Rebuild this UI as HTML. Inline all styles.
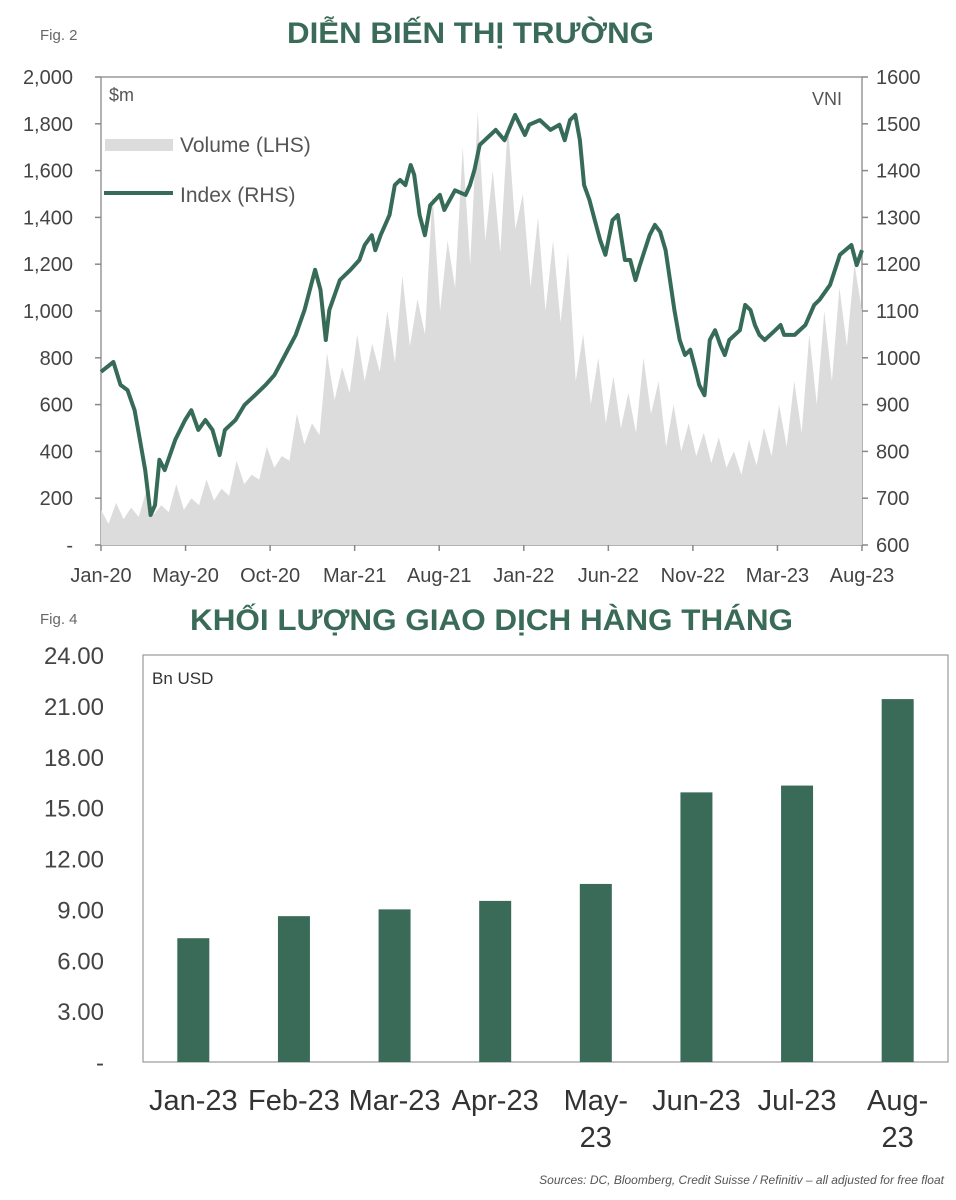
<!DOCTYPE html>
<html><head><meta charset="utf-8"><style>
html,body{margin:0;padding:0;background:#fff;}
svg{display:block;font-family:"Liberation Sans",sans-serif;}
</style></head><body>
<svg id="root" width="956" height="1200" viewBox="0 0 956 1200">
<text x="40" y="40" font-size="15" fill="#666">Fig. 2</text>
<text x="287" y="43" font-size="30" font-weight="bold" fill="#3a6b58" textLength="367" lengthAdjust="spacingAndGlyphs">DIỄN BIẾN THỊ TRƯỜNG</text>
<g id="c1"></g>
<text x="40" y="624" font-size="15" fill="#666">Fig. 4</text>
<text x="190" y="630" font-size="30" font-weight="bold" fill="#3a6b58" textLength="603" lengthAdjust="spacingAndGlyphs">KHỐI LƯỢNG GIAO DỊCH HÀNG THÁNG</text>
<g id="c2"></g>
<text x="944" y="1184" font-size="12" font-style="italic" fill="#555" text-anchor="end">Sources:  DC, Bloomberg, Credit Suisse / Refinitiv – all adjusted for free float</text>
</svg>
<script>
// ---- Chart 1 data ----
const xLabels1 = ["Jan-20","May-20","Oct-20","Mar-21","Aug-21","Jan-22","Jun-22","Nov-22","Mar-23","Aug-23"];
const leftTicks = [0,200,400,600,800,1000,1200,1400,1600,1800,2000];
const rightTicks = [600,700,800,900,1000,1100,1200,1300,1400,1500,1600];
// months since Jan-20 for each index observation
const indexMonths = [0,0.7,1.1,1.5,1.9,2.2,2.5,2.8,3.05,3.3,3.6,4.2,4.75,5.1,5.5,5.9,6.3,6.7,7,7.6,8.1,8.7,9.3,9.8,10.4,11,11.5,12.1,12.4,12.7,12.9,13.5,14.1,14.6,14.9,15.3,15.5,15.8,16.3,16.6,16.9,17.2,17.5,17.7,18,18.3,18.6,19.15,19.4,20,20.6,20.85,21.1,21.4,22,22.3,22.8,23.4,23.95,24.2,24.8,25.4,25.9,26.2,26.5,26.8,27.06,27.3,27.6,27.9,28.2,28.5,28.9,29.2,29.6,29.9,30.2,30.45,31,31.3,31.6,31.9,32.15,32.4,32.7,33,33.3,33.6,33.8,34.1,34.4,34.7,35,35.25,35.5,36.1,36.4,36.7,36.95,37.2,37.5,38.1,38.4,38.6,39.2,39.8,40.3,40.6,41.2,41.75,42.4,42.7,43];
const indexValues = [970,991,942,931,888,825,760,664,685,782,760,825,867,888,846,867,846,792,846,867,899,920,942,963,1006,1049,1102,1188,1145,1038,1102,1166,1188,1209,1241,1262,1230,1262,1305,1369,1380,1369,1412,1391,1305,1262,1326,1348,1316,1358,1348,1369,1401,1455,1476,1487,1465,1519,1476,1498,1508,1487,1498,1465,1508,1519,1465,1369,1337,1294,1252,1220,1294,1305,1209,1209,1166,1198,1262,1284,1269,1230,1166,1102,1038,1006,1017,974,942,920,1038,1059,1027,1006,1038,1059,1113,1102,1070,1049,1038,1059,1070,1049,1049,1070,1113,1124,1156,1220,1241,1198,1230];
const volumeValues = [150,90,180,110,160,120,230,130,170,140,260,150,200,170,280,190,240,210,360,260,300,280,420,330,380,360,560,430,520,470,820,620,760,650,900,700,860,740,1000,780,1150,850,1050,900,1500,1000,1300,1100,1700,1200,1850,1300,1600,1250,1800,1350,1500,1100,1400,1000,1300,950,1250,700,900,600,800,520,720,500,650,480,800,560,700,420,600,400,520,380,480,350,460,330,400,300,450,340,500,380,600,420,700,480,900,600,1000,700,1100,850,1200,1000];
// ---- Chart 2 data ----
const months2 = ["Jan-23","Feb-23","Mar-23","Apr-23","May-23","Jun-23","Jul-23","Aug-23"];
const monthlyVolume = [7.3,8.6,9.0,9.5,10.5,15.9,16.3,21.4];
const yTicks2 = ["-","3.00","6.00","9.00","12.00","15.00","18.00","21.00","24.00"];

const NS="http://www.w3.org/2000/svg";
function mk(tag,attrs,parent,txt){const e=document.createElementNS(NS,tag);for(const k in attrs)e.setAttribute(k,attrs[k]);if(txt!==undefined)e.textContent=txt;parent.appendChild(e);return e;}

// Chart 1
(function(){
const g=document.getElementById('c1');
const L=101,R=862,T=77,B=545;
const yL=v=>B-(v/2000)*(B-T);
const yR=v=>B-((v-600)/1000)*(B-T);
const xI=(i,n)=>L+(i/(n-1))*(R-L);
const xM=m=>L+(m/43)*(R-L);
const frame=mk('rect',{x:L,y:T,width:R-L,height:B-T,fill:'none',stroke:'#999','stroke-width':1.5},g);


let d='M'+L+','+B;
volumeValues.forEach((v,i)=>{d+=' L'+xI(i,volumeValues.length).toFixed(1)+','+yL(v).toFixed(1);});
d+=' L'+R+','+B+' Z';
const area=mk('path',{d:d,fill:'#dcdcdc'},g);


let p='';
indexValues.forEach((v,i)=>{p+=(i?' L':'M')+xM(indexMonths[i]).toFixed(1)+','+yR(v).toFixed(1);});
const line=mk('path',{d:p,fill:'none',stroke:'#366b58','stroke-width':4,'stroke-linejoin':'round'},g);


leftTicks.forEach(v=>{
 const y=yL(v);
 mk('line',{x1:L-6,x2:L,y1:y,y2:y,stroke:'#888','stroke-width':1.5},g);
 const t=mk('text',{x:73,y:y+7,'font-size':20,fill:'#444','text-anchor':'end'},g,v===0?'-':v.toLocaleString('en-US'));
 
 
});
rightTicks.forEach(v=>{
 const y=yR(v);
 mk('line',{x1:R,x2:R+6,y1:y,y2:y,stroke:'#888','stroke-width':1.5},g);
 const t=mk('text',{x:876,y:y+7,'font-size':20,fill:'#444'},g,String(v));
 
 
});
xLabels1.forEach((s,i)=>{
 const x=L+i*(R-L)/(xLabels1.length-1);
 mk('line',{x1:x,x2:x,y1:B,y2:B+6,stroke:'#888','stroke-width':1.5},g);
 const t=mk('text',{x:x,y:582,'font-size':20,fill:'#444','text-anchor':'middle'},g,s);
 
 
});
const u=mk('text',{x:109,y:101,'font-size':18,fill:'#555'},g,'$m');


const vn=mk('text',{x:842,y:105,'font-size':18,fill:'#555','text-anchor':'end'},g,'VNI');


const ls=mk('rect',{x:105,y:139,width:68,height:12,fill:'#dcdcdc'},g);


const lt=mk('text',{x:180,y:152,'font-size':21,fill:'#555'},g,'Volume (LHS)');


const ll=mk('line',{x1:104,x2:173,y1:193,y2:193,stroke:'#366b58','stroke-width':4},g);


const lt2=mk('text',{x:180,y:202,'font-size':21,fill:'#555'},g,'Index (RHS)');


})();

// Chart 2
(function(){
const g=document.getElementById('c2');
const L=143,R=948,T=655,B=1062;
const y=v=>B-(v/24)*(B-T);
const cw=(R-L)/months2.length;
const frame=mk('rect',{x:L,y:T,width:R-L,height:B-T,fill:'none',stroke:'#999','stroke-width':1.2},g);


yTicks2.forEach((s,i)=>{
 const t=mk('text',{x:104,y:y(i*3)+9,'font-size':24,fill:'#444','text-anchor':'end'},g,s);
 
 
});
monthlyVolume.forEach((v,i)=>{
 const cx=L+cw*(i+0.5);
 const b=mk('rect',{x:cx-16,y:y(v),width:32,height:B-y(v),fill:'#3a6b58'},g);
 
 
 const parts=(i===4||i===7)?[months2[i].split('-')[0]+'-','23']:[months2[i]];
 parts.forEach((s,k)=>{
  const t=mk('text',{x:cx,y:1110+k*37,'font-size':29,fill:'#333','text-anchor':'middle'},g,s);
  
  
 });
});
const u=mk('text',{x:152,y:684,'font-size':17,fill:'#333'},g,'Bn USD');


})();
</script>
</body></html>
